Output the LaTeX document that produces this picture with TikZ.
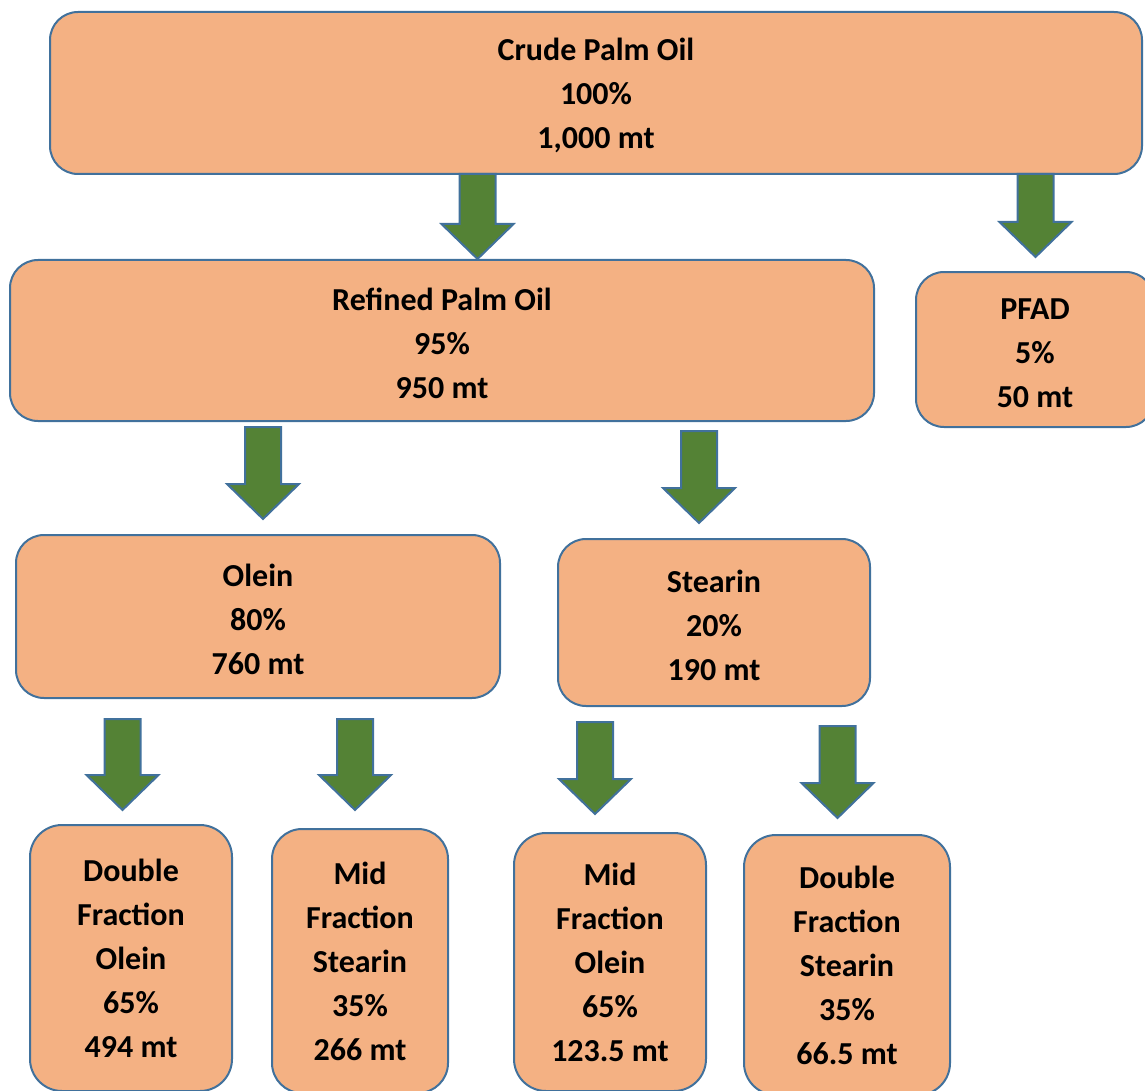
\documentclass[tikz,border=0pt]{standalone}
\usepackage{fontspec}
\setmainfont{Carlito}
\usepackage{tikz}

\definecolor{boxfill}{HTML}{F4B183}
\definecolor{boxline}{HTML}{41719C}
\definecolor{arrowfill}{HTML}{548235}

\newcommand{\topstrut}{\rule{0pt}{13.8pt}}

\begin{document}
\begin{tikzpicture}[x=0.5pt,y=-0.5pt,
    blk/.style={draw=boxline, fill=boxfill, line width=1pt,
      rounded corners=14pt, align=center, inner sep=0pt,
      font=\fontsize{16}{22}\selectfont\bfseries},
    fat/.style={draw=boxline, fill=arrowfill, line width=1pt}]

  \useasboundingbox (0,0) rectangle (1145,1091);
  \clip (0,0) rectangle (1145,1091);

  % boxes
  \node[blk, minimum width=546pt, minimum height=81pt] (cpo) at (596,93)
    {\topstrut Crude Palm Oil\\100\%\\1,000 mt};
  \node[blk, minimum width=432pt, minimum height=80.5pt] (rpo) at (442,340.5)
    {\topstrut Refined Palm Oil\\95\%\\950 mt};
  \node[blk, minimum width=119pt, minimum height=77.5pt] (pfad) at (1035,349.5)
    {\topstrut PFAD\\5\%\\50 mt};
  \node[blk, minimum width=242pt, minimum height=81.5pt] (olein) at (258,616.5)
    {\topstrut Olein\\80\%\\760 mt};
  \node[blk, minimum width=156pt, minimum height=83.5pt] (stearin) at (714,622.5)
    {\topstrut Stearin\\20\%\\190 mt};
  \node[blk, rounded corners=16pt, minimum width=101pt, minimum height=133pt] (dfo) at (131,958)
    {Double\\Fraction\\Olein\\65\%\\494 mt};
  \node[blk, rounded corners=15pt, minimum width=88pt, minimum height=132pt] (mfs) at (360,961)
    {Mid\\Fraction\\Stearin\\35\%\\266 mt};
  \node[blk, rounded corners=16pt, minimum width=96pt, minimum height=129pt] (mfo) at (610,962)
    {Mid\\Fraction\\Olein\\65\%\\123.5 mt};
  \node[blk, rounded corners=16pt, minimum width=103pt, minimum height=130pt] (dfs) at (847,965)
    {Double\\Fraction\\Stearin\\35\%\\66.5 mt};

  % block arrows: x, top, tip
  \foreach \x/\t/\p in {477.5/174/259, 1035.5/174/257, 263/427/519, 699/431/523,
                        122.5/719/810, 355/719/810, 595/722/814, 837.5/726/818}
  \draw[fat] (\x-18,\t) -- (\x+18,\t) -- (\x+18,\p-35) -- (\x+36,\p-35)
    -- (\x,\p) -- (\x-36,\p-35) -- (\x-18,\p-35) -- cycle;

\end{tikzpicture}
\end{document}
